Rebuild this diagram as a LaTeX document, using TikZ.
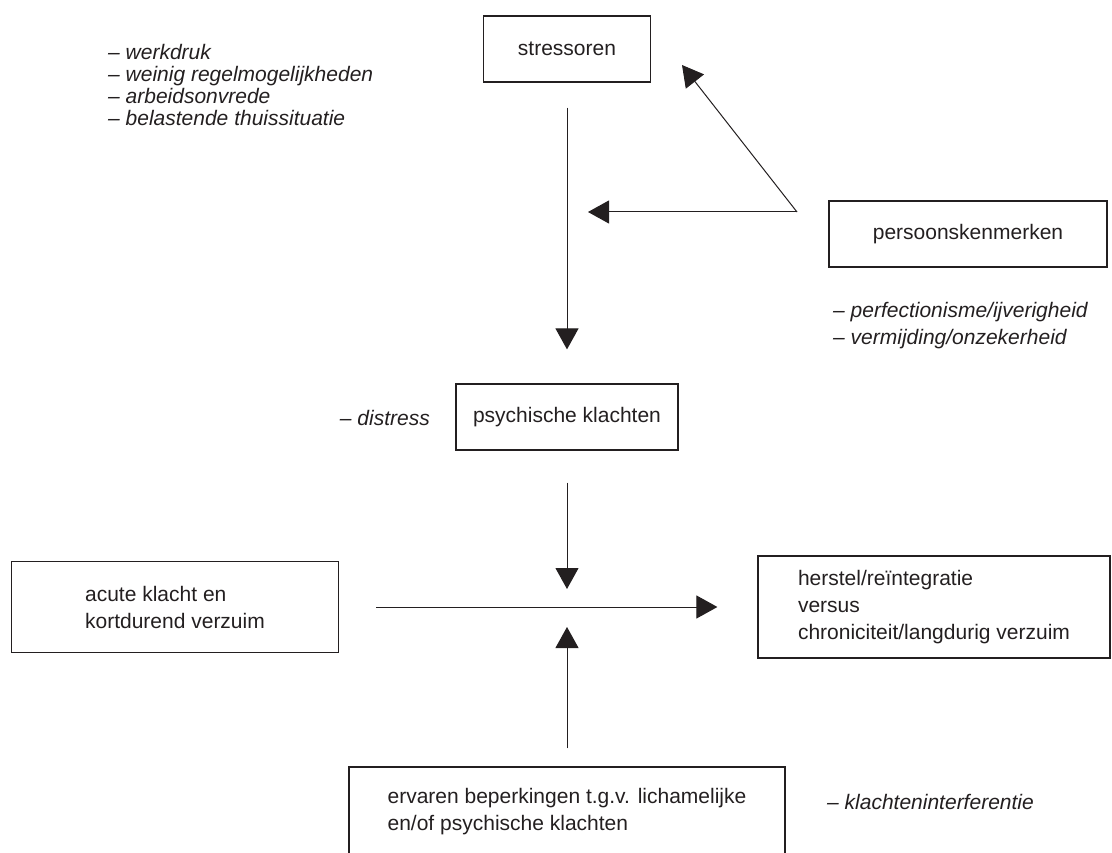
\documentclass[tikz,border=0pt]{standalone}
\usepackage{fontspec}
\setmainfont{Liberation Sans}
\usetikzlibrary{arrows.meta,positioning}
\definecolor{inkt}{RGB}{35,31,32}

\begin{document}
\begin{tikzpicture}[x=1pt,y=-1pt,
  font=\fontsize{21}{27}\selectfont,
  blok/.style={draw=inkt, text=inkt, line width=1.2pt, inner sep=0pt},
  lijst/.style={text=inkt, inner sep=0pt, align=left, font=\fontsize{21}{27}\selectfont\itshape},
  pijl/.style={draw=inkt, line width=1pt, ->, >={Triangle[width=23pt,length=21pt]}}]
\useasboundingbox (0,0) rectangle (1112,853);

\node[blok, minimum width=167pt, minimum height=66pt] (stress) at (567,49) {stressoren};
\node[blok, minimum width=278pt, minimum height=66pt] (perso) at (968,234) {persoonskenmerken};
\node[blok, minimum width=222pt, minimum height=66pt] (psych) at (567,417) {psychische klachten};
\node[blok, minimum width=327pt, minimum height=91pt, align=left] (acuut) at (175,607) {acute klacht en\\kortdurend verzuim};
\node[blok, minimum width=352pt, minimum height=102pt, align=left] (herstel) at (934,607) {herstel/reïntegratie\\versus\\chroniciteit/langdurig verzuim};
\node[blok, minimum width=436pt, minimum height=90pt, align=left] (beperk) at (567,812) {ervaren beperkingen t.g.v. lichamelijke\\en/of psychische klachten};

\node[lijst, anchor=west, font=\fontsize{21}{22}\selectfont\itshape] (stresslijst) at (108,85) {-- werkdruk\\-- weinig regelmogelijkheden\\-- arbeidsonvrede\\-- belastende thuissituatie};
\node[lijst, anchor=west] (persolijst) at (833,326) {-- perfectionisme/ijverigheid\\-- vermijding/onzekerheid};
\node[lijst, anchor=east] (distress) at (430,418) {-- distress};
\node[lijst, anchor=west] (interf) at (827,802) {-- klachteninterferentie};

\coordinate (kruis) at (567,607);
\coordinate (hoek) at (797,212);
\coordinate (stresspunt) at (682,65);
\coordinate (lijnpunt) at (588,212);

\draw[pijl, shorten <=25pt, shorten >=34pt] (stress) -- (psych);
\draw[pijl, shorten <=32pt, shorten >=18pt] (psych) -- (kruis);
\draw[pijl, shorten <=18pt, shorten >=20pt] (beperk) -- (kruis);
\draw[pijl, shorten <=37pt, shorten >=40pt] (acuut) -- (herstel);
\draw[pijl] (hoek) -- (stresspunt);
\draw[pijl] (hoek) -- (lijnpunt);
\end{tikzpicture}
\end{document}
